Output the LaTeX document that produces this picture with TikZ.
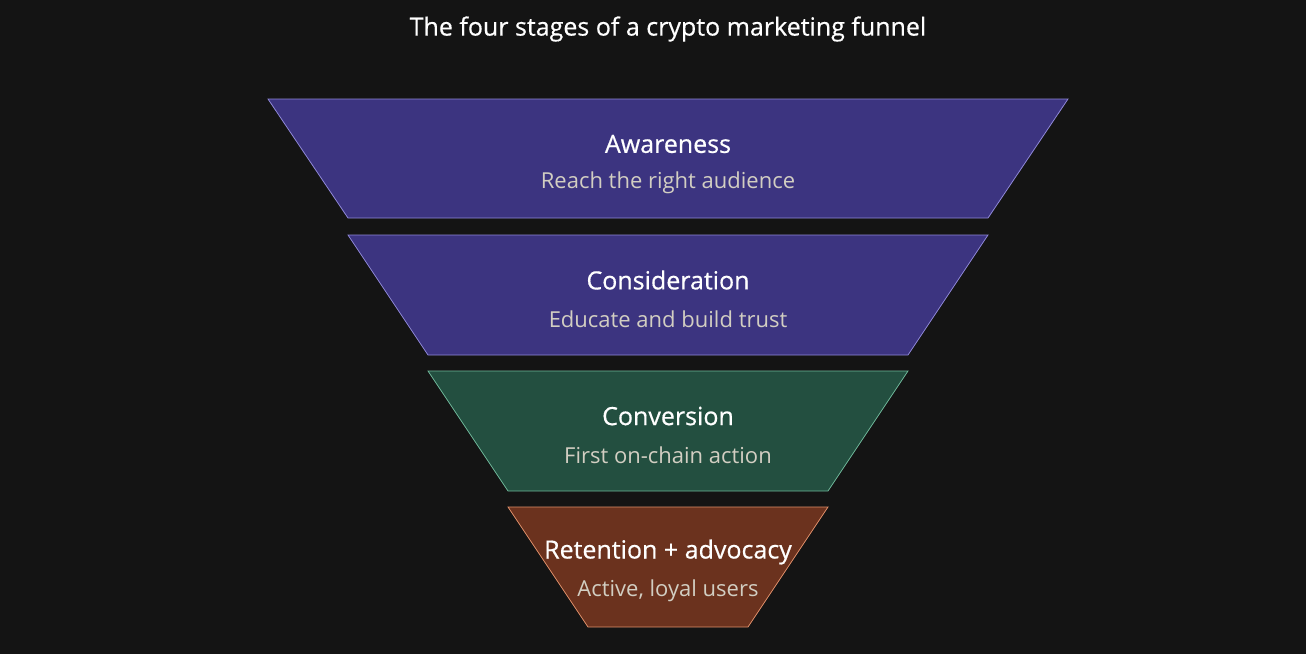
\documentclass[tikz,border=0pt]{standalone}
\usepackage{fontspec}
\setmainfont{Open Sans}
\definecolor{bg}{HTML}{141414}
\definecolor{purp}{HTML}{3C3480}
\definecolor{purpb}{HTML}{8F88D8}
\definecolor{grn}{HTML}{234F40}
\definecolor{grnb}{HTML}{6FB89A}
\definecolor{brn}{HTML}{6B321E}
\definecolor{brnb}{HTML}{E0906A}
\definecolor{sub}{HTML}{D2CEC2}
\begin{document}
\begin{tikzpicture}[x=1pt,y=-1pt,
  stage/.style={line width=0.8pt},
  ttl/.style={text=white,font=\fontsize{25}{28}\selectfont\addfontfeatures{FakeBold=0.5}},
  subt/.style={text=sub,font=\fontsize{22}{24}\selectfont}]
\fill[bg] (0,0) rectangle (1306,654);
\useasboundingbox (0,0) rectangle (1306,654);
\node[text=white,font=\fontsize{25}{28}\selectfont\addfontfeatures{FakeBold=0.5}] (title) at (668,29) {The four stages of a crypto marketing funnel};
\draw[stage,fill=purp,draw=purpb] (268,99) -- (1068,99) -- (988,218) -- (348,218) -- cycle;
\draw[stage,fill=purp,draw=purpb] (348,235) -- (988,235) -- (908,355) -- (428,355) -- cycle;
\draw[stage,fill=grn,draw=grnb] (428,371) -- (908,371) -- (828,491) -- (508,491) -- cycle;
\draw[stage,fill=brn,draw=brnb] (508,507) -- (828,507) -- (748,627) -- (588,627) -- cycle;
\node[ttl] (a1) at (668,144) {Awareness};
\node[subt] (a2) at (668,183) {Reach the right audience};
\node[ttl] (b1) at (668,280) {Consideration};
\node[subt] (b2) at (668,319) {Educate and build trust};
\node[ttl] (c1) at (668,416) {Conversion};
\node[subt] (c2) at (668,455) {First on-chain action};
\node[ttl] (d1) at (668,552) {Retention + advocacy};
\node[subt] (d2) at (668,591) {Active, loyal users};
\end{tikzpicture}
\end{document}
